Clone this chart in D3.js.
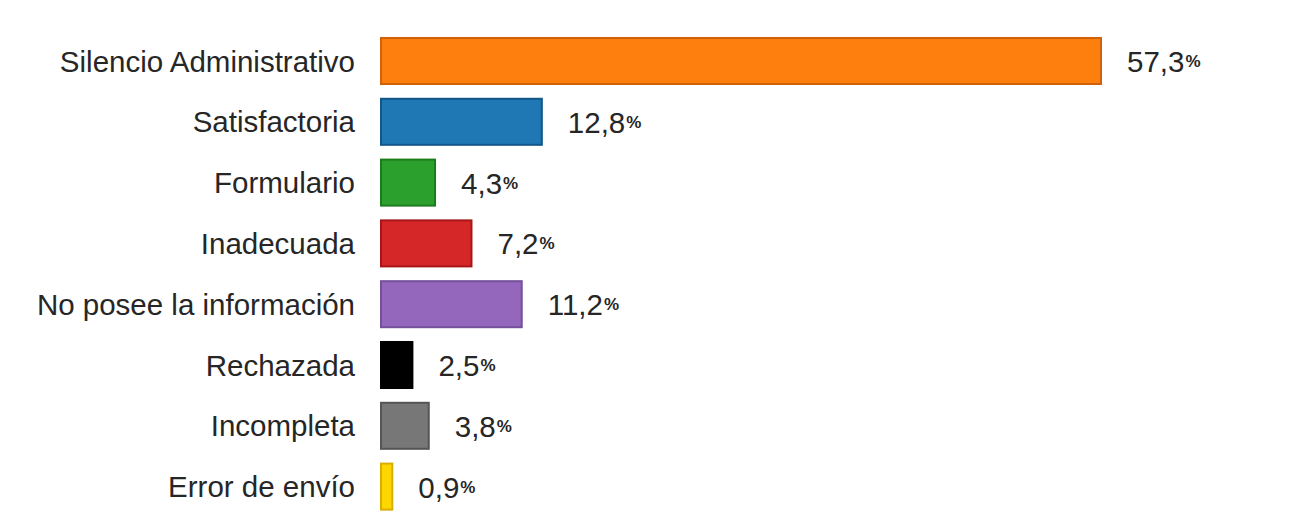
<!DOCTYPE html>
<html><head><meta charset="utf-8">
<script src="https://cdn.jsdelivr.net/npm/d3@7"></script>
<style>body{margin:0;background:#fff;}svg{display:block;}</style>
</head><body>
<svg id="c" width="1312" height="531"></svg>
<script>
const categories = ["Silencio Administrativo","Satisfactoria","Formulario","Inadecuada","No posee la información","Rechazada","Incompleta","Error de envío"];
const values = [57.3, 12.8, 4.3, 7.2, 11.2, 2.5, 3.8, 0.9];
const valueLabels = ["57,3","12,8","4,3","7,2","11,2","2,5","3,8","0,9"];
const fills = ["#ff7f0e","#1f77b4","#2ca02c","#d62728","#9467bd","#000000","#777777","#ffd700"];
const strokes = ["#d0620a","#11578a","#1a7d1a","#a81518","#75509a","#000000","#555555","#d8ae00"];

const svg = d3.select("#c");
const x = d3.scaleLinear().domain([0, 57.3]).range([381, 1101]);
const y = d3.scaleBand().domain(categories).range([30.6, 517]).paddingInner(0.243).paddingOuter(0.1215);

const g = svg.append("g");
g.selectAll("rect").data(categories).join("rect")
  .attr("x", x(0)).attr("y", d => y(d))
  .attr("width", (d,i) => x(values[i]) - x(0))
  .attr("height", y.bandwidth())
  .attr("fill", (d,i) => fills[i])
  .attr("stroke", (d,i) => strokes[i])
  .attr("stroke-width", 2);

g.selectAll("text.cat").data(categories).join("text")
  .attr("class","cat")
  .attr("x", 355).attr("y", d => y(d) + y.bandwidth()/2)
  .attr("text-anchor","end").attr("dominant-baseline","central")
  .attr("font-family","Liberation Sans, Arial, sans-serif")
  .attr("font-size", 29.5).attr("fill","#262626")
  .text(d => d);

const vt = g.selectAll("text.val").data(categories).join("text")
  .attr("class","val")
  .attr("x", (d,i) => x(values[i]) + 26).attr("y", d => y(d) + y.bandwidth()/2)
  .attr("dominant-baseline","central")
  .attr("font-family","Liberation Sans, Arial, sans-serif")
  .attr("fill","#262626");
vt.append("tspan").attr("font-size", 29.5).text((d,i) => valueLabels[i]);
vt.append("tspan").attr("font-size", 17).attr("font-weight","bold").attr("dx", 1).text("%");
</script>
</body></html>
